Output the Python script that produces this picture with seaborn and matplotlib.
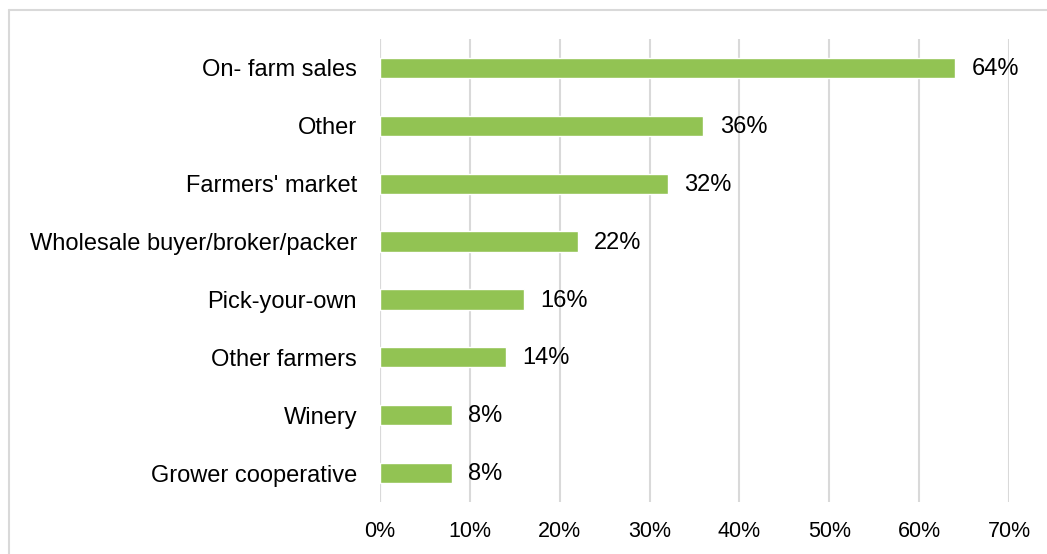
import matplotlib
matplotlib.use("Agg")
import matplotlib.pyplot as plt
from matplotlib.lines import Line2D
import seaborn as sns
import pandas as pd

categories = [
    "On- farm sales",
    "Other",
    "Farmers' market",
    "Wholesale buyer/broker/packer",
    "Pick-your-own",
    "Other farmers",
    "Winery",
    "Grower cooperative",
]
shares = [64, 36, 32, 22, 16, 14, 8, 8]
x_ticks = [0, 10, 20, 30, 40, 50, 60, 70]

df = pd.DataFrame({"channel": categories, "share": shares})

sns.set_theme(style="white")
plt.rcParams["font.family"] = ["Liberation Sans", "DejaVu Sans"]

fig = plt.figure(figsize=(10.47, 5.54), dpi=100)
ax = fig.add_axes([0.3629, 0.0939, 0.6008, 0.8357])

sns.barplot(data=df, x="share", y="channel", color="#92C353",
            width=0.35, saturation=1, ax=ax, orient="h", zorder=3)

ax.set_xlim(0, 70)
ax.set_ylim(len(categories) - 0.5, -0.5)
ax.set_xticks(x_ticks)
ax.set_xticklabels([f"{t}%" for t in x_ticks])
ax.xaxis.grid(True, color="#D9D9D9", linewidth=1.5, zorder=0)
ax.yaxis.grid(False)
for s in ax.spines.values():
    s.set_visible(False)
ax.axvline(0, color="#D9D9D9", linewidth=1.5, zorder=1)
ax.tick_params(axis="both", length=0, colors="black")
ax.tick_params(axis="y", labelsize=17, pad=16.5)
ax.tick_params(axis="x", labelsize=15.5, pad=14)
ax.set_xlabel("")
ax.set_ylabel("")

for i, v in enumerate(shares):
    ax.text(v + 1.8, i + 0.02, f"{v}%", va="center", ha="left", fontsize=17, color="black")

# light frame along top and left edges
fig.add_artist(Line2D([8.5 / 1047, 1.0], [1 - 9.5 / 554, 1 - 9.5 / 554],
                      transform=fig.transFigure, color="#D9D9D9", linewidth=1.5))
fig.add_artist(Line2D([8.5 / 1047, 8.5 / 1047], [0.0, 1 - 9.5 / 554],
                      transform=fig.transFigure, color="#D9D9D9", linewidth=1.5))

fig.savefig("out.png", dpi=100)
